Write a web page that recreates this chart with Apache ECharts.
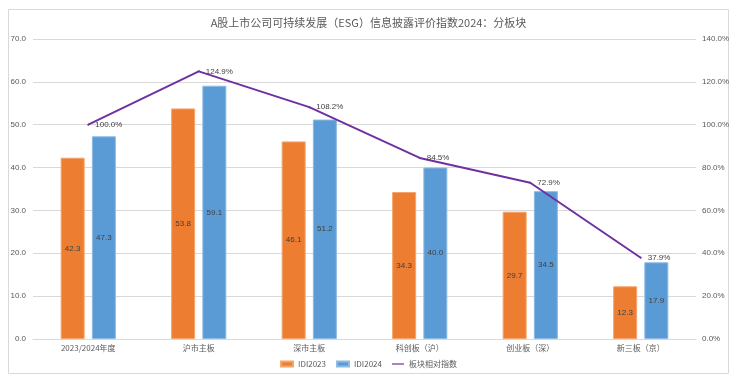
<!DOCTYPE html>
<html>
<head>
<meta charset="utf-8">
<script src="https://cdn.jsdelivr.net/npm/echarts@6/dist/echarts.min.js"></script>
<style>
html,body{margin:0;padding:0;background:#fff;}
#c{width:737px;height:384px;}
</style>
</head>
<body>
<div id="c"></div>
<script>
var categories = ['2023/2024年度', '沪市主板', '深市主板', '科创板（沪）', '创业板（深）', '新三板（京）'];
var idi2023 = [42.3, 53.8, 46.1, 34.3, 29.7, 12.3];
var idi2024 = [47.3, 59.1, 51.2, 40.0, 34.5, 17.9];
var relIndex = [100.0, 124.9, 108.2, 84.5, 72.9, 37.9];
var titleText = 'A股上市公司可持续发展（ESG）信息披露评价指数2024：分板块';

var font = '"Noto Sans CJK SC", "Noto Sans", sans-serif';
var chart = echarts.init(document.getElementById('c'), null, {renderer: 'canvas'});
chart.setOption({
  backgroundColor: '#fff',
  animation: false,
  title: {
    text: titleText,
    left: 'center',
    top: 12,
    textStyle: {fontSize: 11, fontWeight: 'normal', color: '#595959', fontFamily: font}
  },
  graphic: [{
    type: 'rect',
    shape: {x: 8.5, y: 9.5, width: 720, height: 364},
    style: {fill: 'none', stroke: '#d9d9d9', lineWidth: 1},
    silent: true, z: -1
  }],
  legend: {
    top: 355,
    left: 'center',
    itemWidth: 12,
    itemHeight: 5,
    itemGap: 10,
    textStyle: {fontSize: 8, color: '#595959', fontFamily: font},
    data: [
      {name: 'IDI2023', icon: 'rect'},
      {name: 'IDI2024', icon: 'rect'},
      {name: '板块相对指数', icon: 'path://M0,0L20,0L20,2L0,2Z', itemStyle: {color: '#7030A0', opacity: 1}}
    ]
  },
  grid: {left: 33, right: 41, top: 39, bottom: 45},
  xAxis: {
    type: 'category',
    data: categories,
    axisTick: {show: false},
    axisLine: {show: true, lineStyle: {color: '#d9d9d9'}},
    axisLabel: {fontSize: 8, color: '#595959', fontFamily: font, margin: 5, interval: 0}
  },
  yAxis: [{
    type: 'value', min: 0, max: 70, interval: 10,
    axisLine: {show: false}, axisTick: {show: false},
    splitLine: {lineStyle: {color: '#d9d9d9'}},
    axisLabel: {fontSize: 8, color: '#595959', margin: 7, formatter: function (v) { return v.toFixed(1); }}
  }, {
    type: 'value', min: 0, max: 140, interval: 20,
    axisLine: {show: false}, axisTick: {show: false},
    splitLine: {show: false},
    axisLabel: {fontSize: 8, color: '#595959', margin: 6, formatter: function (v) { return v.toFixed(1) + '%'; }}
  }],
  series: [{
    name: 'IDI2023', type: 'bar', data: idi2023,
    barWidth: 24, barGap: '30%',
    itemStyle: {color: '#ED7D31', borderColor: '#F4A56E', borderWidth: 1},
    label: {show: true, position: 'inside', fontSize: 8, color: '#404040', formatter: function (p) { return p.value.toFixed(1); }}
  }, {
    name: 'IDI2024', type: 'bar', data: idi2024,
    barWidth: 24, barGap: '30%',
    itemStyle: {color: '#5B9BD5', borderColor: '#8DBBE3', borderWidth: 1},
    label: {show: true, position: 'inside', fontSize: 8, color: '#404040', formatter: function (p) { return p.value.toFixed(1); }}
  }, {
    name: '板块相对指数', type: 'line', yAxisIndex: 1, data: relIndex,
    symbol: 'circle', symbolSize: 2, showSymbol: true,
    lineStyle: {color: '#7030A0', width: 2},
    itemStyle: {color: '#7030A0'},
    label: {show: true, position: 'right', distance: 6, offset: [0, -2], fontSize: 8, color: '#404040',
      formatter: function (p) { return p.value.toFixed(1) + '%'; }},
    labelLayout: {hideOverlap: false},
    z: 5
  }]
});
</script>
</body>
</html>
